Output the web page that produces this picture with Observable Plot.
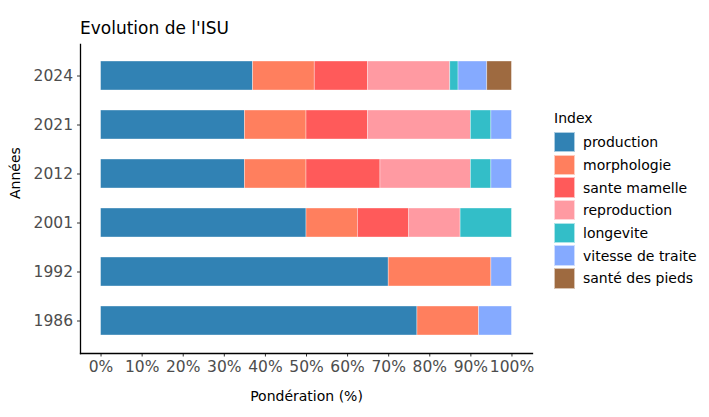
<!DOCTYPE html>
<html>
<head>
<meta charset="utf-8">
<script src="https://cdn.jsdelivr.net/npm/d3@7"></script>
<script src="https://cdn.jsdelivr.net/npm/@observablehq/plot@0.6"></script>
<style>
  body { margin: 0; background: #fff; font-family: "DejaVu Sans", sans-serif; }
  #wrap { width: 709px; height: 417px; position: relative; overflow: hidden; }
  #title { box-sizing: border-box; height: 40px; padding-top: 20px; padding-left: 80px; font-size: 17px; line-height: 16px; color: #000; }
  #row { display: flex; flex-direction: row; }
  #legend { margin-left: 9px; padding-top: 71px; font-size: 14px; color: #000; }
  #legend .lt { line-height: 14px; height: 14px; margin-bottom: 7px; }
  #legend .item { display: flex; align-items: center; height: 20.4px; margin-bottom: 2.3px; }
  #legend .sw { width: 20.5px; height: 20.4px; box-sizing: border-box; border: 0.5px solid rgba(255,255,255,0.6); }
  #legend .lab { margin-left: 8.5px; line-height: 14px; white-space: nowrap; }
</style>
</head>
<body>
<div id="wrap">
  <div id="title">Evolution de l'ISU</div>
  <div id="row">
    <div id="chart"></div>
    <div id="legend"></div>
  </div>
</div>
<script>
const years = ["2024", "2021", "2012", "2001", "1992", "1986"];
const indexNames = ["production", "morphologie", "sante mamelle", "reproduction", "longevite", "vitesse de traite", "santé des pieds"];
const indexColors = ["#3182b4", "#ff7f5e", "#ff5a5a", "#ff9aa2", "#33bec8", "#85aaff", "#9e6a40"];
const production      = [37, 35, 35, 50,   70, 77];
const morphologie     = [15, 15, 15, 12.5, 25, 15];
const santeMamelle    = [13, 15, 18, 12.5, 0,  0];
const reproduction    = [20, 25, 22, 12.5, 0,  0];
const longevite       = [2,  5,  5,  12.5, 0,  0];
const vitesseTraite   = [7,  5,  5,  0,    5,  8];
const santePieds      = [6,  0,  0,  0,    0,  0];
const xTicks = [0, 10, 20, 30, 40, 50, 60, 70, 80, 90, 100];

const series = [production, morphologie, santeMamelle, reproduction, longevite, vitesseTraite, santePieds];
const rows = [];
years.forEach((y, i) => {
  series.forEach((s, k) => {
    if (s[i] > 0) rows.push({annee: y, index: indexNames[k], value: s[i]});
  });
});

const plot = Plot.plot({
  width: 545,
  height: 377,
  marginTop: 4,
  marginLeft: 80,
  marginRight: 13,
  marginBottom: 64,
  style: { fontFamily: "'DejaVu Sans', sans-serif", background: "#fff" },
  x: { domain: [-5, 105], label: null },
  y: { domain: years, type: "band", paddingInner: 0.4, paddingOuter: 0.3, label: null },
  color: { domain: indexNames, range: indexColors },
  marks: [
    Plot.barX(rows, {
      x: "value", y: "annee", fill: "index", z: "index",
      stroke: "white", strokeWidth: 0.6, strokeOpacity: 0.6
    }),
    Plot.axisX({ ticks: xTicks, tickFormat: d => d + "%", tickSize: 3.5, tickPadding: 4,
      fontSize: 15.5, color: "#4d4d4d", stroke: "#333", label: null }),
    Plot.axisY({ tickSize: 3, tickPadding: 4.5, fontSize: 15.5, color: "#4d4d4d", stroke: "#333", label: null }),
    Plot.frame({ anchor: "left", stroke: "#000", strokeWidth: 1.3 }),
    Plot.frame({ anchor: "bottom", stroke: "#000", strokeWidth: 1.3 }),
    Plot.text(["Pondération (%)"], { frameAnchor: "bottom", dy: 47, fontSize: 14, fill: "#000", text: d => d }),
    Plot.text(["Années"], { frameAnchor: "left", dx: -65, rotate: -90, fontSize: 14, fill: "#000", text: d => d })
  ]
});
document.getElementById("chart").appendChild(plot);

const legend = d3.select("#legend");
legend.append("div").attr("class", "lt").text("Index");
indexNames.forEach((n, i) => {
  const it = legend.append("div").attr("class", "item");
  it.append("div").attr("class", "sw").style("background", indexColors[i]);
  it.append("div").attr("class", "lab").text(n);
});
</script>
</body>
</html>
